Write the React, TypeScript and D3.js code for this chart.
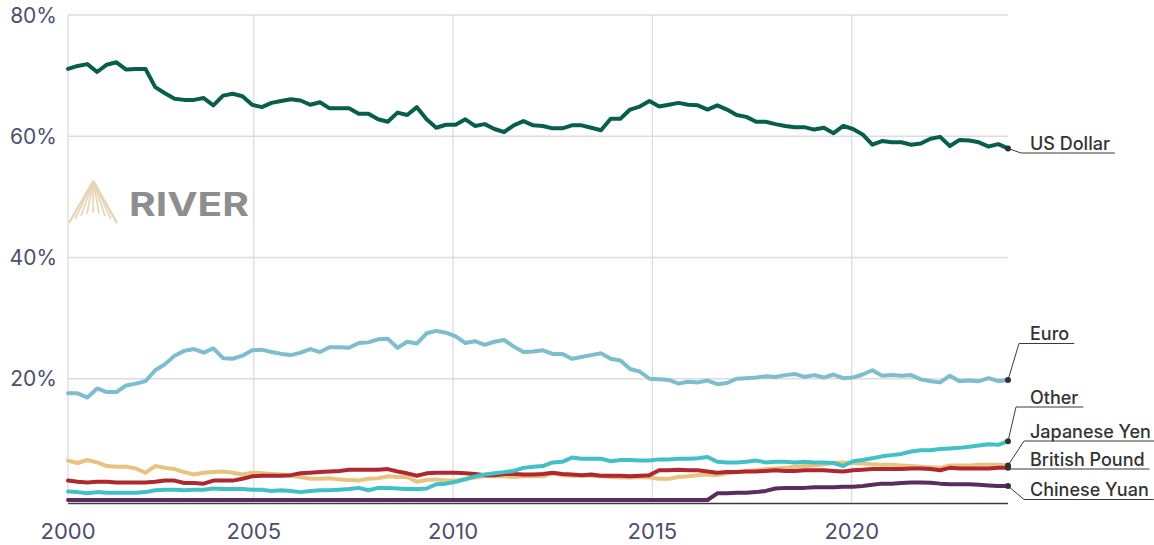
import React, { useMemo } from "react";
import * as d3 from "d3";

// quarterly shares of allocated reserves, 2000 Q1 .. 2024 Q2
const usDollar = [
  71.1, 71.6, 71.9, 70.6, 71.8, 72.2, 71.0, 71.1, 71.1, 68.1,
  67.1, 66.2, 66.0, 66.0, 66.3, 65.1, 66.7, 67.0, 66.6, 65.2,
  64.8, 65.5, 65.8, 66.1, 65.9, 65.2, 65.6, 64.6, 64.6, 64.6,
  63.7, 63.7, 62.8, 62.4, 63.9, 63.5, 64.8, 62.8, 61.4, 61.9,
  61.9, 62.8, 61.7, 62.0, 61.2, 60.7, 61.8, 62.5, 61.8, 61.7,
  61.3, 61.3, 61.8, 61.8, 61.4, 61.0, 62.9, 62.9, 64.4, 64.9,
  65.8, 64.9, 65.2, 65.5, 65.2, 65.1, 64.4, 65.1, 64.4, 63.5,
  63.2, 62.4, 62.4, 62.0, 61.7, 61.5, 61.5, 61.1, 61.4, 60.5,
  61.7, 61.2, 60.3, 58.6, 59.2, 59.0, 59.0, 58.6, 58.8, 59.6,
  59.9, 58.4, 59.4, 59.3, 59.0, 58.3, 58.7, 58.0,
];

const euro = [
  17.6, 17.6, 16.9, 18.4, 17.8, 17.8, 18.9, 19.2, 19.6, 21.4,
  22.4, 23.8, 24.6, 24.9, 24.3, 25.0, 23.4, 23.3, 23.8, 24.7,
  24.8, 24.4, 24.1, 23.9, 24.3, 24.9, 24.4, 25.2, 25.2, 25.1,
  25.9, 26.0, 26.5, 26.6, 25.1, 26.1, 25.8, 27.5, 27.9, 27.6,
  27.0, 25.9, 26.2, 25.6, 26.1, 26.4, 25.3, 24.4, 24.5, 24.7,
  24.1, 24.1, 23.3, 23.6, 23.9, 24.2, 23.3, 23.0, 21.6, 21.2,
  20.0, 19.9, 19.8, 19.2, 19.5, 19.4, 19.7, 19.1, 19.3, 20.0,
  20.1, 20.2, 20.4, 20.3, 20.6, 20.8, 20.3, 20.6, 20.2, 20.7,
  20.1, 20.2, 20.7, 21.4, 20.5, 20.6, 20.5, 20.6, 19.9, 19.6,
  19.4, 20.5, 19.6, 19.7, 19.6, 20.1, 19.6, 19.8,
];

const other = [
  1.4, 1.3, 1.1, 1.3, 1.2, 1.2, 1.2, 1.2, 1.3, 1.6,
  1.7, 1.7, 1.6, 1.7, 1.7, 1.9, 1.8, 1.8, 1.8, 1.7,
  1.7, 1.5, 1.6, 1.5, 1.3, 1.5, 1.6, 1.6, 1.7, 1.8,
  2.0, 1.6, 2.0, 2.0, 1.9, 1.8, 1.8, 1.9, 2.6, 2.7,
  3.0, 3.4, 3.9, 4.2, 4.4, 4.6, 4.8, 5.3, 5.5, 5.6,
  6.2, 6.3, 7.0, 6.8, 6.8, 6.8, 6.4, 6.6, 6.6, 6.5,
  6.5, 6.7, 6.7, 6.8, 6.8, 6.9, 7.1, 6.3, 6.2, 6.2,
  6.3, 6.5, 6.2, 6.3, 6.3, 6.2, 6.3, 6.2, 6.2, 6.1,
  5.6, 6.4, 6.6, 6.9, 7.2, 7.4, 7.6, 8.0, 8.2, 8.2,
  8.4, 8.5, 8.6, 8.8, 9.0, 9.2, 9.1, 9.7,
];

const japaneseYen = [
  6.5, 6.1, 6.6, 6.2, 5.6, 5.5, 5.5, 5.2, 4.5, 5.6,
  5.3, 5.1, 4.6, 4.2, 4.5, 4.6, 4.7, 4.5, 4.2, 4.5,
  4.4, 4.3, 4.2, 4.0, 3.8, 3.5, 3.5, 3.6, 3.4, 3.3,
  3.2, 3.5, 3.6, 3.9, 3.8, 3.8, 3.0, 3.3, 3.4, 3.2,
  3.2, 3.5, 3.7, 3.9, 3.9, 3.9, 3.8, 3.9, 3.9, 3.9,
  4.4, 4.1, 4.0, 4.0, 4.0, 3.9, 3.8, 3.7, 3.7, 3.8,
  3.7, 3.5, 3.5, 3.8, 3.9, 4.1, 4.2, 4.1, 4.4, 4.6,
  4.8, 4.9, 5.1, 5.2, 5.3, 5.5, 5.6, 5.7, 5.9, 6.1,
  6.2, 6.1, 6.0, 5.9, 5.8, 5.8, 5.7, 5.6, 5.5, 5.4,
  5.3, 5.7, 5.7, 5.7, 5.8, 5.8, 5.8, 5.7,
];

const britishPound = [
  3.2, 3.0, 2.9, 3.0, 3.0, 2.9, 2.9, 2.9, 2.9, 3.0,
  3.2, 3.2, 2.8, 2.8, 2.7, 3.2, 3.2, 3.2, 3.5, 3.9,
  4.0, 4.0, 4.0, 4.1, 4.4, 4.5, 4.6, 4.7, 4.8, 5.0,
  5.0, 5.0, 5.0, 5.1, 4.7, 4.4, 4.0, 4.4, 4.5, 4.5,
  4.5, 4.4, 4.3, 4.1, 4.1, 4.3, 4.3, 4.2, 4.2, 4.3,
  4.5, 4.3, 4.2, 4.1, 4.2, 4.0, 4.0, 4.0, 3.9, 4.0,
  4.1, 4.9, 4.9, 5.0, 4.9, 4.9, 4.7, 4.5, 4.6, 4.6,
  4.7, 4.7, 4.8, 4.9, 4.8, 4.8, 4.9, 4.9, 4.9, 4.8,
  4.7, 4.9, 5.0, 5.1, 5.1, 5.1, 5.1, 5.2, 5.2, 5.1,
  4.9, 5.3, 5.2, 5.2, 5.2, 5.2, 5.3, 5.3,
];

// not reported before 2016 Q4, drawn along zero
const chineseYuan = [
  0, 0, 0, 0, 0, 0, 0, 0, 0, 0,
  0, 0, 0, 0, 0, 0, 0, 0, 0, 0,
  0, 0, 0, 0, 0, 0, 0, 0, 0, 0,
  0, 0, 0, 0, 0, 0, 0, 0, 0, 0,
  0, 0, 0, 0, 0, 0, 0, 0, 0, 0,
  0, 0, 0, 0, 0, 0, 0, 0, 0, 0,
  0, 0, 0, 0, 0, 0, 0, 1.1, 1.1, 1.2,
  1.2, 1.3, 1.5, 1.9, 2.0, 2.0, 2.0, 2.1, 2.1, 2.1,
  2.2, 2.2, 2.3, 2.5, 2.7, 2.7, 2.8, 2.9, 2.9, 2.85,
  2.7, 2.6, 2.6, 2.6, 2.5, 2.4, 2.3, 2.3,
];

const yTicks = [20, 40, 60, 80];
const firstYearLabel = "2000";

const series = [
  { name: "Euro", values: euro, color: "#7dbdd0" },
  { name: "US Dollar", values: usDollar, color: "#075f4b" },
  { name: "Japanese Yen", values: japaneseYen, color: "#e8c27f" },
  { name: "British Pound", values: britishPound, color: "#b0282f" },
  { name: "Other", values: other, color: "#41c0c8" },
  { name: "Chinese Yuan", values: chineseYuan, color: "#5b2d5f" },
];

// where each end label sits and where its leader bends
const labelLayout = [
  { name: "US Dollar", y: 149.5, elbow: 1021 },
  { name: "Euro", y: 340, elbow: 1019 },
  { name: "Other", y: 403.5, elbow: 1016 },
  { name: "Japanese Yen", y: 437.5, elbow: 1024 },
  { name: "British Pound", y: 465.5, elbow: 1008 },
  { name: "Chinese Yuan", y: 496, elbow: 1024 },
];

const W = 1154, H = 545;
const left = 68, right = 1008, top = 15, bottom = 500;
const labelFont = "500 18px Inter";
const axisColor = "#4b4f6d";

function measure(text: string) {
  const ctx = document.createElement("canvas").getContext("2d");
  if (!ctx) return text.length * 9;
  ctx.font = labelFont;
  return ctx.measureText(text).width;
}

export default function App() {
  const n = usDollar.length;
  const x = d3.scaleLinear().domain([0, n - 1]).range([left, right]);
  const years = d3.scaleLinear().domain([2000.34, 2023.92]).range([left, right]);
  const y = d3.scaleLinear().domain([0, 80]).range([bottom, top]);
  const line = (vals: number[]) =>
    d3.line<number>().x((_, i) => x(i)).y((d) => y(d))(vals) || "";

  const widths = useMemo(() => labelLayout.map((l) => measure(l.name)), []);
  const yearTicks = years.ticks(5).filter((t) => t > 2000);

  // fan of the logo mark
  const fan = d3.range(9).map((k) => k / 8);

  return (
    <svg width={W} height={H} style={{ position: "absolute", left: 0, top: 0, background: "#fff" }}
      fontFamily="Inter, 'Noto Sans', sans-serif">
      {/* grid */}
      <g stroke="#dcdcdc" strokeWidth={1.3}>
        {yTicks.map((t) => (
          <line key={t} x1={left} x2={right} y1={y(t)} y2={y(t)} />
        ))}
        <line x1={left} x2={left} y1={top} y2={bottom + 2} />
        {yearTicks.map((t) => (
          <line key={t} x1={years(t)} x2={years(t)} y1={top} y2={bottom + 2} />
        ))}
      </g>

      {/* logo */}
      <g stroke="#e7d4b4" strokeWidth={1.6} fill="none">
        {fan.map((f, k) => {
          const bx = 69 + f * 48;
          const by = 223 - Math.sin(f * Math.PI) * 10;
          return <line key={k} x1={93.3} y1={181} x2={bx} y2={by} strokeWidth={k === 0 || k === 8 ? 2.4 : 1.6} />;
        })}
      </g>
      <text x={129} y={215.5} fontSize={33} fontWeight={700} fill="#8e8e8e" textLength={120}
        lengthAdjust="spacingAndGlyphs">RIVER</text>

      {/* y labels */}
      <g fontSize={21} fill={axisColor} textAnchor="end">
        {yTicks.map((t) => (
          <text key={t} x={57} y={y(t) + 7.6}>{`${t}%`}</text>
        ))}
      </g>
      {/* x labels */}
      <g fontSize={22} fill={axisColor} textAnchor="middle">
        <text x={left} y={539}>{firstYearLabel}</text>
        {yearTicks.map((t) => (
          <text key={t} x={years(t)} y={539}>{t}</text>
        ))}
      </g>

      {/* series */}
      <g fill="none" strokeWidth={4} strokeLinejoin="round" strokeLinecap="round">
        {series.map((s) => (
          <path key={s.name} d={line(s.values)} stroke={s.color} />
        ))}
      </g>

      <line x1={left} x2={right} y1={bottom + 3.5} y2={bottom + 3.5} stroke="#3a3a3a" strokeWidth={1.5} />

      {/* end labels */}
      {labelLayout.map((l, k) => {
        const s = series.find((d) => d.name === l.name)!;
        const ex = x(n - 1);
        const ey = y(s.values[n - 1]);
        const uy = l.y + 3.5;
        const tx = 1030;
        return (
          <g key={l.name}>
            <polyline points={`${ex},${ey} ${l.elbow},${uy} ${tx + widths[k] + 5},${uy}`}
              fill="none" stroke="#3b3b3b" strokeWidth={1} />
            <circle cx={ex} cy={ey} r={3} fill="#333" />
            <text x={tx} y={l.y} fontSize={18} fontWeight={500} fill="#333">{l.name}</text>
          </g>
        );
      })}
    </svg>
  );
}
